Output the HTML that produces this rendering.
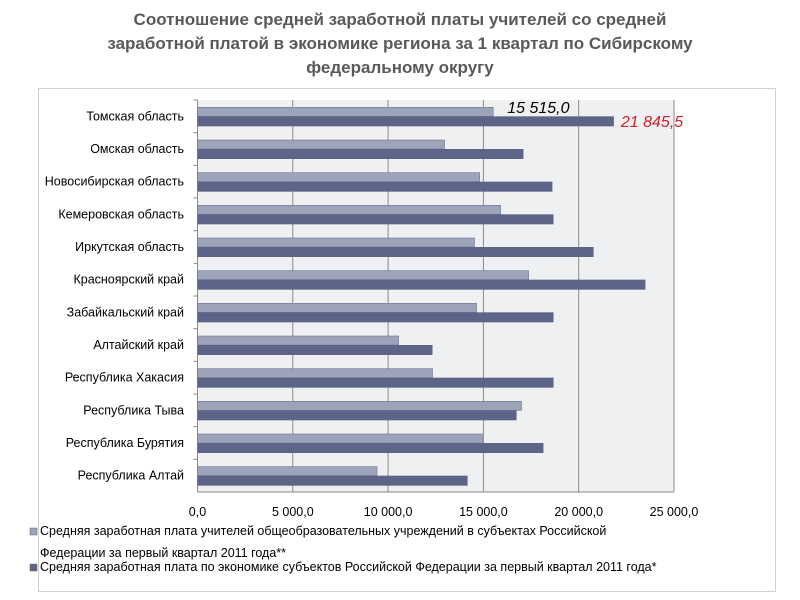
<!DOCTYPE html>
<html><head><meta charset="utf-8"><style>
body{margin:0;width:800px;height:600px;background:#fff;font-family:"Liberation Sans","DejaVu Sans",sans-serif;overflow:hidden}
#title{position:absolute;left:0;top:8px;width:800px;text-align:center;font-weight:bold;font-size:17px;line-height:24px;color:#595959}
svg{position:absolute;left:0;top:0}
</style></head><body>
<div id="title">Соотношение средней заработной платы учителей со средней<br>заработной платой в экономике региона за 1 квартал по Сибирскому<br>федеральному округу</div>
<svg id="c" width="800" height="600"></svg>
<script>
const categories=["Томская область","Омская область","Новосибирская область","Кемеровская область","Иркутская область","Красноярский край","Забайкальский край","Алтайский край","Республика Хакасия","Республика Тыва","Республика Бурятия","Республика Алтай"];
const teachers=[15515,12960,14800,15900,14530,17370,14640,10550,12330,17000,14950,9420];
const economy=[21845.5,17100,18620,18680,20780,23500,18680,12330,18680,16740,18150,14170];
const ticks=[0,5000,10000,15000,20000,25000];
const tickLabels=["0,0","5 000,0","10 000,0","15 000,0","20 000,0","25 000,0"];
const NS="http://www.w3.org/2000/svg";
const svg=document.getElementById('c');
const X0=197.5,X1=674,Y0=100,Y1=492;
const x=v=>X0+v/25000*(X1-X0);
const band=(Y1-Y0)/categories.length;
function mk(t,a,p){const e=document.createElementNS(NS,t);for(const k in a)e.setAttribute(k,a[k]);(p||svg).appendChild(e);return e;}
const frame=mk('rect',{x:38.5,y:88.5,width:737,height:503,fill:'#fff',stroke:'#d0d0d0'});


const bg=mk('rect',{x:X0,y:Y0,width:X1-X0,height:Y1-Y0,fill:'#eff0f2'});


ticks.forEach((t,i)=>{
  if(i>0){const g=mk('line',{x1:x(t),x2:x(t),y1:Y0,y2:Y1,stroke:'#8a8a8a','stroke-width':1});
  
  }
  const l=mk('text',{x:x(t),y:Y1+24,'text-anchor':'middle','font-size':12.5,fill:'#000'});
  l.textContent=tickLabels[i];
  
  
});
mk('line',{x1:X0,x2:X1,y1:Y1,y2:Y1,stroke:'#8a8a8a'});
mk('line',{x1:X0,x2:X0,y1:Y0,y2:Y1,stroke:'#8a8a8a'});
categories.forEach((c,i)=>{
  const yc=Y0+band*i+band/2;
  mk('line',{x1:X0-4,x2:X0,y1:Y0+band*i,y2:Y0+band*i,stroke:'#8a8a8a'});
  const b1=mk('rect',{x:X0,y:yc-9,width:x(teachers[i])-X0,height:9,fill:'#9da3b8',stroke:'#6d7590','stroke-width':0.6});
  
  
  const b2=mk('rect',{x:X0,y:yc,width:x(economy[i])-X0,height:10,fill:'#5d6488'});
  
  
  const l=mk('text',{x:184,y:yc+4,'text-anchor':'end','font-size':12.5,fill:'#000'});
  l.textContent=c;
  
  
});
const v1=mk('text',{x:x(teachers[0])+14,y:Y0+13,'font-size':16,'font-style':'italic',fill:'#000'});
v1.textContent="15 515,0";


const v2=mk('text',{x:x(economy[0])+7,y:Y0+27,'font-size':16,'font-style':'italic',fill:'#d0202a'});
v2.textContent="21 845,5";


const lg=[["#9da3b8",528,"Средняя заработная плата учителей общеобразовательных учреждений в субъектах Российской",534],["#5d6488",564,"Средняя заработная плата по экономике субъектов Российской Федерации за первый квартал 2011 года*",570]];
lg.forEach(a=>{
  const s=mk('rect',{x:30,y:a[1],width:7,height:7,fill:a[0],stroke:'#666','stroke-width':0.5});
  
  
  const t=mk('text',{x:40,y:a[3]+1,'font-size':12.5,fill:'#000'});
  t.textContent=a[2];
  
  
});
const t2=mk('text',{x:40,y:557,'font-size':12.5,fill:'#000'});
t2.textContent="Федерации за первый квартал 2011 года**";


</script>
</body></html>
